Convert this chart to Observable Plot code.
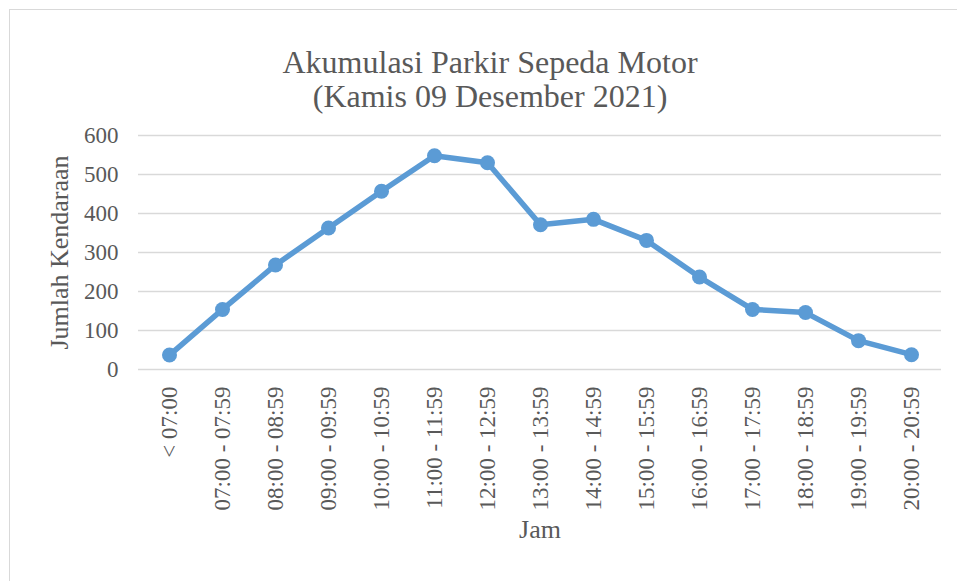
<!DOCTYPE html>
<html>
<head>
<meta charset="utf-8">
<script src="https://cdn.jsdelivr.net/npm/d3@7"></script>
<script src="https://cdn.jsdelivr.net/npm/@observablehq/plot@0.6"></script>
<style>
  html, body { margin: 0; padding: 0; background: #fff; }
  #wrap { position: relative; width: 957px; height: 581px; overflow: hidden; }
  #frame { position: absolute; left: 9px; top: 9px; width: 1000px; height: 700px;
           border-left: 1.5px solid #d9d9d9; border-top: 1.5px solid #d9d9d9; z-index: 2; pointer-events: none; }
  #chart { position: absolute; left: 0; top: 0; z-index: 1; }
  #chart svg, #chart svg text, #chart svg g { font-family: "Liberation Serif", "DejaVu Serif", serif !important; }
</style>
</head>
<body>
<div id="wrap"><div id="frame"></div><div id="chart"></div></div>
<script>
const categories = ["< 07:00", "07:00 - 07:59", "08:00 - 08:59", "09:00 - 09:59", "10:00 - 10:59",
  "11:00 - 11:59", "12:00 - 12:59", "13:00 - 13:59", "14:00 - 14:59", "15:00 - 15:59",
  "16:00 - 16:59", "17:00 - 17:59", "18:00 - 18:59", "19:00 - 19:59", "20:00 - 20:59"];
const values = [37, 154, 268, 363, 457, 548, 530, 371, 385, 331, 237, 154, 146, 74, 38];
const yTicks = [0, 100, 200, 300, 400, 500, 600];
const titleLines = ["Akumulasi Parkir Sepeda Motor", "(Kamis 09 Desember 2021)"];
const xLabel = ["Jam"];
const yLabel = ["Jumlah Kendaraan"];

const data = categories.map((c, i) => ({cat: c, val: values[i]}));
const blue = "#5b9bd5";
const grey = "#595959";

const chart = Plot.plot({
  width: 957,
  height: 581,
  marginTop: 135,
  marginBottom: 212,
  marginLeft: 138,
  marginRight: 16,
  style: {color: grey, background: "transparent"},
  x: {type: "point", domain: categories, padding: 0.5},
  y: {domain: [0, 600]},
  marks: [
    Plot.gridY(yTicks, {stroke: "#d9d9d9", strokeOpacity: 1, strokeWidth: 1.5}),
    Plot.axisY(yTicks, {tickSize: 0, tickPadding: 20, fontSize: 23, label: null}),
    Plot.axisX({tickSize: 0, tickPadding: 17, tickRotate: -90, fontSize: 23, label: null}),
    Plot.line(data, {x: "cat", y: "val", stroke: blue, strokeWidth: 5.5, strokeLinejoin: "round", strokeLinecap: "round"}),
    Plot.dot(data, {x: "cat", y: "val", r: 7.5, fill: blue, stroke: null}),
    Plot.text([titleLines[0]], {text: d => d, frameAnchor: "top", dx: -50, dy: -85, fontSize: 32, fill: grey}),
    Plot.text([titleLines[1]], {text: d => d, frameAnchor: "top", dx: -50, dy: -51.5, fontSize: 32, fill: grey}),
    Plot.text(xLabel, {text: d => d, frameAnchor: "bottom", dy: 168, fontSize: 26, fill: grey}),
    Plot.text(yLabel, {text: d => d, frameAnchor: "left", textAnchor: "middle", dx: -79, rotate: -90, fontSize: 26, fill: grey})
  ]
});
document.getElementById("chart").appendChild(chart);
</script>
</body>
</html>
